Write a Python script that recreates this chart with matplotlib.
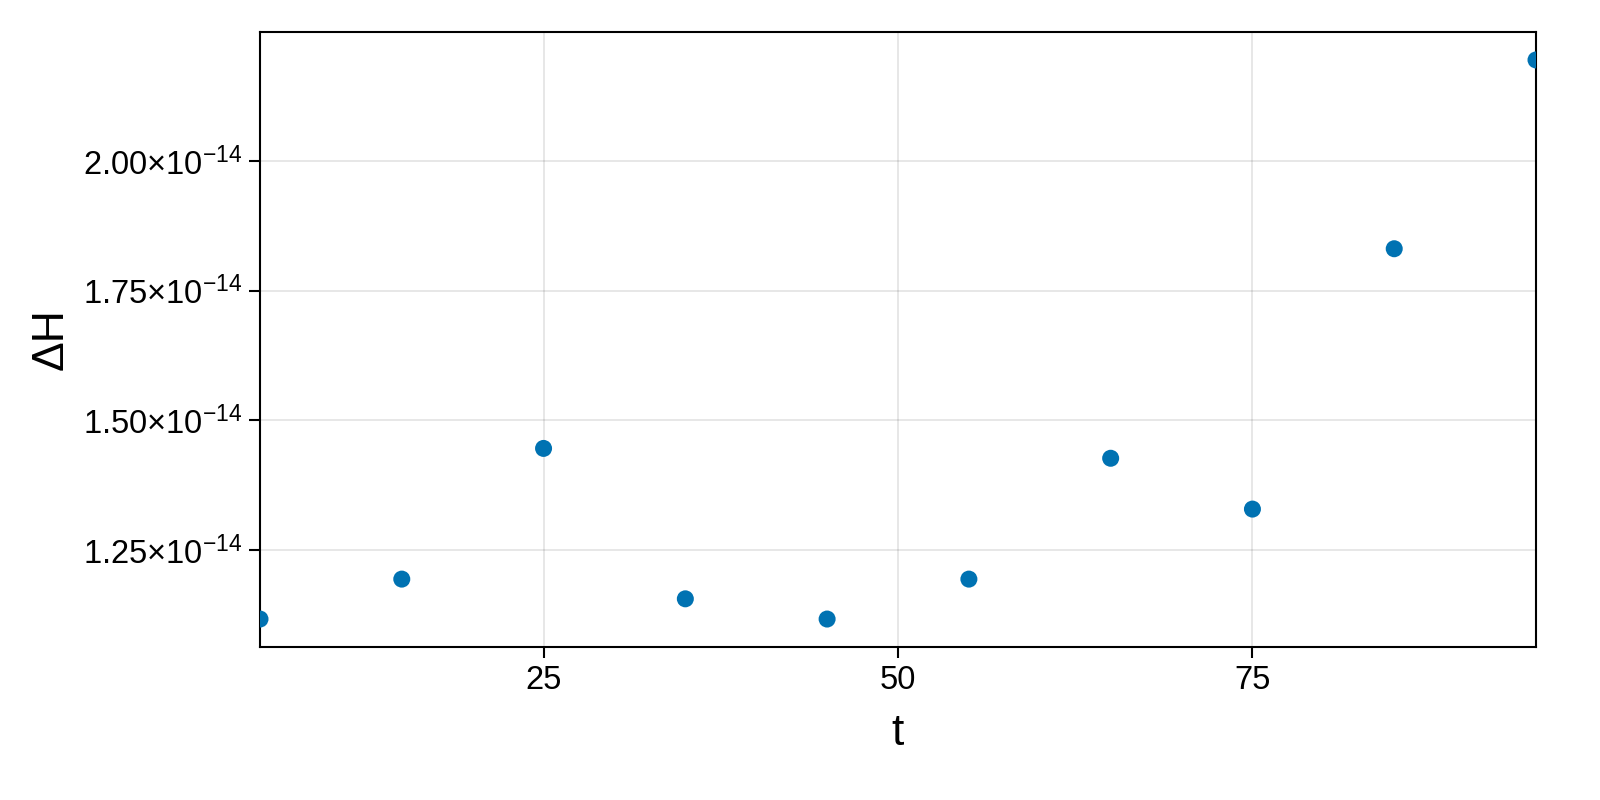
import matplotlib
matplotlib.use("Agg")
import matplotlib.pyplot as plt
from matplotlib.ticker import FuncFormatter, FixedLocator

plt.rcParams['font.family'] = ['Liberation Sans', 'DejaVu Sans']
plt.rcParams['mathtext.fontset'] = 'custom'
plt.rcParams['mathtext.rm'] = 'Liberation Sans'
plt.rcParams['mathtext.it'] = 'Liberation Sans'

# energy error over time
t = [5, 15, 25, 35, 45, 55, 65, 75, 85, 95]
dH = [1.117e-14, 1.194e-14, 1.446e-14, 1.156e-14, 1.117e-14,
      1.194e-14, 1.427e-14, 1.329e-14, 1.831e-14, 2.195e-14]

xticks = [25, 50, 75]
yticks = [1.25e-14, 1.50e-14, 1.75e-14, 2.00e-14]


def sci_fmt(v, pos):
    m = v / 1e-14
    return r'$\mathregular{%.2f{\times}10^{-14}}$' % m


fig = plt.figure(figsize=(16, 8), dpi=100)
ax = fig.add_axes([260/1600, 153/800, 1276/1600, 615/800])

ax.scatter(t, dH, s=150, color='#0072B2', edgecolors='none', zorder=3, clip_on=True)

ax.set_xlim(5, 95)
lo, hi = min(dH), max(dH)
pad = 0.05 * (hi - lo)
ax.set_ylim(lo - pad, hi + pad)

ax.xaxis.set_major_locator(FixedLocator(xticks))
ax.yaxis.set_major_locator(FixedLocator(yticks))
ax.yaxis.set_major_formatter(FuncFormatter(sci_fmt))

ax.grid(True, color='#000000', alpha=0.1, linewidth=1.3)
ax.set_axisbelow(True)
for sp in ax.spines.values():
    sp.set_linewidth(1.5)
ax.tick_params(direction='out', length=8, width=1.5, labelsize=23.5, pad=5)

ax.set_xlabel('t', fontsize=32, labelpad=12)
ax.set_ylabel('ΔH', fontsize=32, labelpad=8)

fig.savefig('out.png', dpi=100)
